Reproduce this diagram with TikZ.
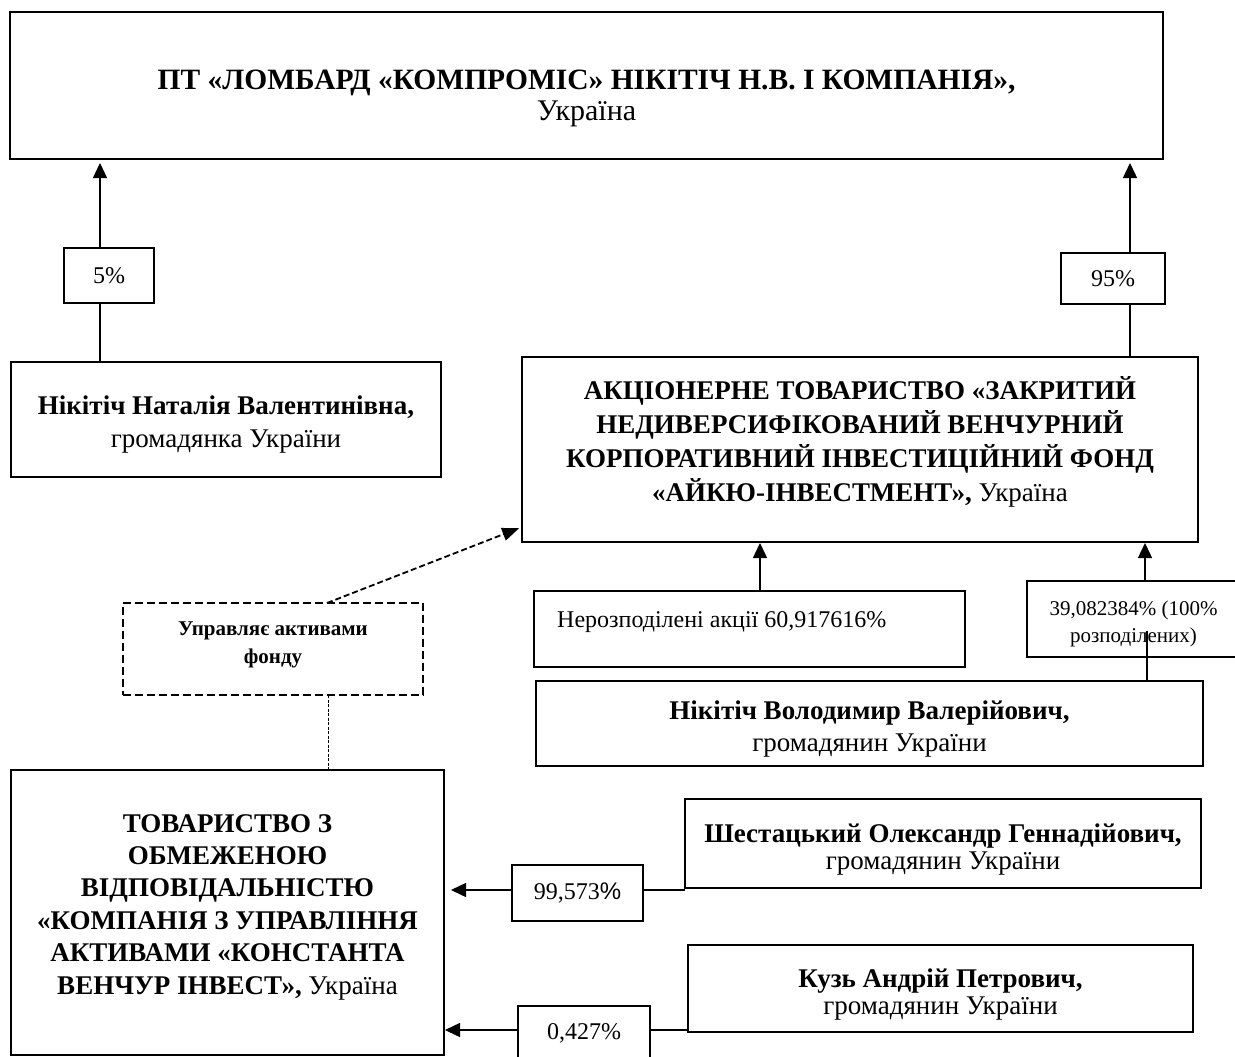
\documentclass[tikz,border=0pt]{standalone}
\usepackage{fontspec}
\setmainfont{Liberation Serif}
\newfontfamily\pctsans{Liberation Sans}
\usetikzlibrary{arrows.meta}

\begin{document}
\begin{tikzpicture}[x=1pt,y=-1pt,
        box/.style={draw,line width=2.5pt,inner sep=0pt,outer sep=0pt,align=center},
        person/.style={box,font=\fontsize{27}{27}\selectfont},
        pct/.style={draw,line width=2pt,inner sep=0pt,outer sep=0pt,align=center,
            font=\fontsize{24}{27}\selectfont},
        link/.style={line width=1.4pt},
        arr/.style={link,-{Triangle[length=15pt,width=14pt]}},
        manbox/.style={box,dash pattern=on 8pt off 4pt},
        manarr/.style={line width=1.8pt,dash pattern=on 6pt off 3pt,
            -{Triangle[length=17pt,width=13pt]}},
        manline/.style={line width=0.8pt,dash pattern=on 3pt off 1.5pt}]
        \useasboundingbox (0,0) rectangle (1235,1057);

        % --- Pawnshop ---
        \node[box,minimum width=1153,minimum height=147,font=\fontsize{30}{32}\selectfont]
            (lombard) at (586.5,85.5)
            {{\bfseries\fontsize{29.5}{32}\selectfont ПТ «ЛОМБАРД «КОМПРОМІС» НІКІТІЧ Н.В. І КОМПАНІЯ»,}\rule{0pt}{47pt}\\
             Україна\rule[-8pt]{0pt}{8pt}};

        % --- Participants ---
        \node[person,minimum width=430,minimum height=115,font=\fontsize{27}{33}\selectfont]
            (natalia) at (226,419.5)
            {\textbf{Нікітіч Наталія Валентинівна,}\rule{0pt}{30pt}\\громадянка України\rule[-8pt]{0pt}{8pt}};
        \node[pct,minimum width=90,minimum height=55] (p5) at (109,275.5) {5\%};
        \node[box,minimum width=676,minimum height=185,font=\fontsize{27}{34}\selectfont]
            (fund) at (860,449.5)
            {\textbf{АКЦІОНЕРНЕ ТОВАРИСТВО «ЗАКРИТИЙ}\rule{0pt}{24pt}\\\textbf{НЕДИВЕРСИФІКОВАНИЙ ВЕНЧУРНИЙ}\\
             \textbf{КОРПОРАТИВНИЙ ІНВЕСТИЦІЙНИЙ ФОНД}\\\textbf{«АЙКЮ-ІНВЕСТМЕНТ»,} Україна\rule[-23pt]{0pt}{23pt}};
        \node[pct,minimum width=104,minimum height=51] (p95) at (1113,278.5) {95\%};

        % --- Fund shares ---
        \node[box,minimum width=431,minimum height=76] (undist) at (749.5,629) {};
        \node[anchor=west,inner sep=0pt,font=\fontsize{24}{27}\selectfont]
            (undisttext) at ([xshift=23pt,yshift=7pt]undist.west) {Нерозподілені акції 60,917616\%};
        \node[pct,minimum width=213,minimum height=76,font=\fontsize{21}{27}\selectfont]
            (p39) at (1133.5,619) {39,082384\% (100\%\rule{0pt}{25pt}\\розподілених)\rule[-6pt]{0pt}{6pt}};
        \node[person,minimum width=667,minimum height=85,font=\fontsize{27}{32}\selectfont]
            (volodymyr) at (869.5,723.5)
            {\textbf{Нікітіч Володимир Валерійович,}\rule{0pt}{30pt}\\громадянин України\rule[-7pt]{0pt}{7pt}};

        % --- Asset manager ---
        \node[manbox,minimum width=300,minimum height=92,font=\fontsize{21}{28}\selectfont]
            (manage) at (273,649)
            {\textbf{Управляє активами}\rule{0pt}{16pt}\\\textbf{фонду}\rule[-16pt]{0pt}{16pt}};
        \node[box,minimum width=433,minimum height=285,font=\fontsize{27}{32.4}\selectfont]
            (kua) at (227.5,912.5)
            {\textbf{ТОВАРИСТВО З}\rule{0pt}{20pt}\\\textbf{ОБМЕЖЕНОЮ}\\\textbf{ВІДПОВІДАЛЬНІСТЮ}\\
             \textbf{«КОМПАНІЯ З УПРАВЛІННЯ}\\\textbf{АКТИВАМИ «КОНСТАНТА}\\
             \textbf{ВЕНЧУР ІНВЕСТ»,} Україна\rule[-19pt]{0pt}{19pt}};
        \node[person,minimum width=516,minimum height=89] (shest) at (943,843.5)
            {\textbf{Шестацький Олександр Геннадійович,}\rule{0pt}{30pt}\\громадянин України\rule[-6pt]{0pt}{6pt}};
        \node[pct,minimum width=131,minimum height=56] (p99) at (577.5,893) {99,573{\pctsans\%}};
        \node[person,minimum width=505,minimum height=87] (kuz) at (940.5,988.5)
            {\textbf{Кузь Андрій Петрович,}\rule{0pt}{30pt}\\громадянин України\rule[-6pt]{0pt}{6pt}};
        \node[pct,minimum width=132,minimum height=54] (p04) at (584,1033) {0,427\%};

        % --- Connectors ---
        \draw[link] ([xshift=-9pt]p5.south) -- ([xshift=-9pt]p5.south |- natalia.north);
        \draw[arr,shorten >=4pt] ([xshift=-9pt]p5.north) -- ([xshift=-9pt]p5.north |- lombard.south);
        \draw[link] ([xshift=17pt]p95.south) -- ([xshift=17pt]p95.south |- fund.north);
        \draw[arr,shorten >=4pt] ([xshift=17pt]p95.north) -- ([xshift=17pt]p95.north |- lombard.south);
        \draw[arr,shorten >=1pt] ([xshift=10.5pt]undist.north) -- ([xshift=10.5pt]undist.north |- fund.south);
        \draw[arr,shorten >=1pt] ([xshift=11.5pt]p39.north) -- ([xshift=11.5pt]p39.north |- fund.south);
        \coordinate (split) at (1147,631);
        \draw[link] (split) -- (split |- volodymyr.north);
        \draw[manarr,shorten >=3pt] ([xshift=54pt]manage.north) -- ([yshift=-77.5pt]fund.west);
        \draw[manline] ([xshift=55pt]manage.south) -- ([xshift=55pt]manage.south |- kua.north);
        \draw[link] ([yshift=3pt]p99.east) -- ([yshift=3pt]p99.east -| shest.west);
        \draw[arr,shorten >=7pt] ([yshift=3pt]p99.west) -- ([yshift=3pt]p99.west -| kua.east);
        \draw[link] ([yshift=3pt]p04.east) -- ([yshift=3pt]p04.east -| kuz.west);
        \draw[arr,shorten >=1pt] ([yshift=3pt]p04.west) -- ([yshift=3pt]p04.west -| kua.east);
    \end{tikzpicture}
\end{document}
